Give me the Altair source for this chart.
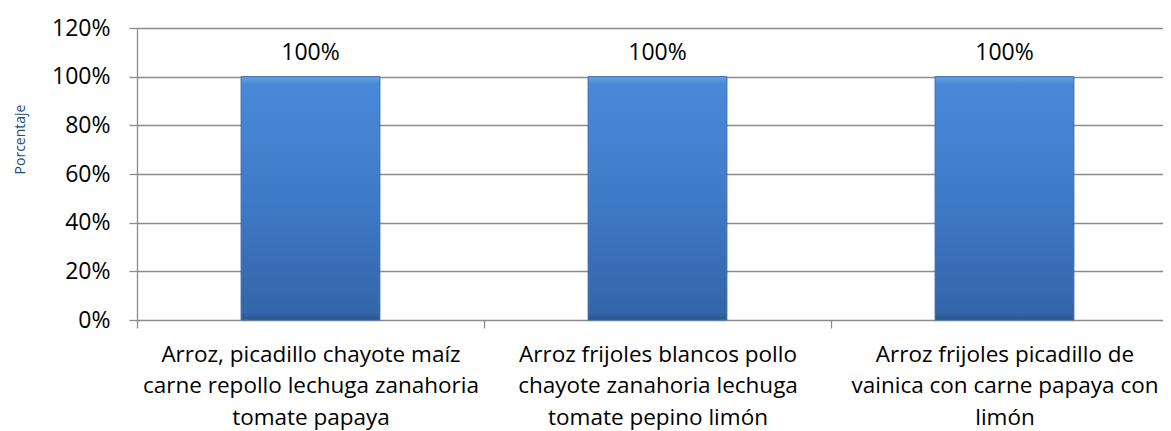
import altair as alt
import pandas as pd

categories = [
    "Arroz, picadillo chayote maíz\ncarne repollo lechuga zanahoria\ntomate papaya",
    "Arroz frijoles blancos pollo\nchayote zanahoria lechuga\ntomate pepino limón",
    "Arroz frijoles picadillo de\nvainica con carne papaya con\nlimón",
]
values = [1.0, 1.0, 1.0]
y_ticks = [0, 0.2, 0.4, 0.6, 0.8, 1.0, 1.2]

df = pd.DataFrame({"cat": categories, "val": values})

FONT = "Open Sans"
W = 1026          # visible plot width (page is cropped on the right, like the reference)
FULL_W = 1041     # width of the full category axis
H = 292

x = alt.X(
    "cat:N",
    sort=categories,
    title=None,
    scale=alt.Scale(paddingInner=0, paddingOuter=0, range=[0, FULL_W]),
    axis=alt.Axis(
        labelAngle=0,
        labelExpr="split(datum.label, '\\n')",
        labelFontSize=22.5,
        labelFont=FONT,
        labelColor="#000000",
        labelLineHeight=31.5,
        labelPadding=15,
        labelBaseline="top",
        tickSize=8,
        tickColor="#8c8c8c",
        tickWidth=1.3,
        tickBand="extent",
        domain=False,
        labelLimit=0,
    ),
)

y = alt.Y(
    "val:Q",
    title="Porcentaje",
    scale=alt.Scale(domain=[0, 1.2], nice=False),
    axis=alt.Axis(
        values=y_ticks,
        format=".0%",
        labelFontSize=23,
        labelFont=FONT,
        labelColor="#000000",
        labelPadding=19,
        tickSize=8,
        tickColor="#8c8c8c",
        tickWidth=1.3,
        domainColor="#8c8c8c",
        domainWidth=1.3,
        grid=True,
        gridColor="#8c8c8c",
        gridWidth=1.3,
        titleFont=FONT,
        titleFontSize=14,
        titleFontWeight="normal",
        titleColor="#24487a",
        titleAngle=270,
        titleX=-117,
        titleY=111,
        titleAlign="center",
        titleBaseline="middle",
    ),
)

bars = alt.Chart(df).mark_bar(
    width=alt.RelativeBandSize(0.4),
    color=alt.Gradient(
        gradient="linear",
        stops=[
            alt.GradientStop(color="#6aa2e4", offset=0.0),
            alt.GradientStop(color="#4a89d8", offset=0.03),
            alt.GradientStop(color="#3f7ac8", offset=0.5),
            alt.GradientStop(color="#3465a8", offset=0.97),
            alt.GradientStop(color="#2b568f", offset=1.0),
        ],
        x1=0, x2=0, y1=0, y2=1,
    ),
    stroke="#3a6aab",
    strokeWidth=1,
).encode(x=x, y=y)

labels = alt.Chart(df).mark_text(
    font=FONT, fontSize=23, color="#000000", baseline="alphabetic", dy=-17
).encode(x=alt.X("cat:N", sort=categories), y="val:Q", text=alt.Text("val:Q", format=".0%"))

chart = (
    alt.layer(bars, labels)
    .properties(
        width=W,
        height=H,
        padding={"left": 129, "top": 20, "right": 0, "bottom": 110},
        autosize=alt.AutoSizeParams(type="none"),
        background="#ffffff",
    )
    .configure_view(stroke=None)
)

chart.save("out.html", embed_options={"renderer": "svg", "actions": False})
